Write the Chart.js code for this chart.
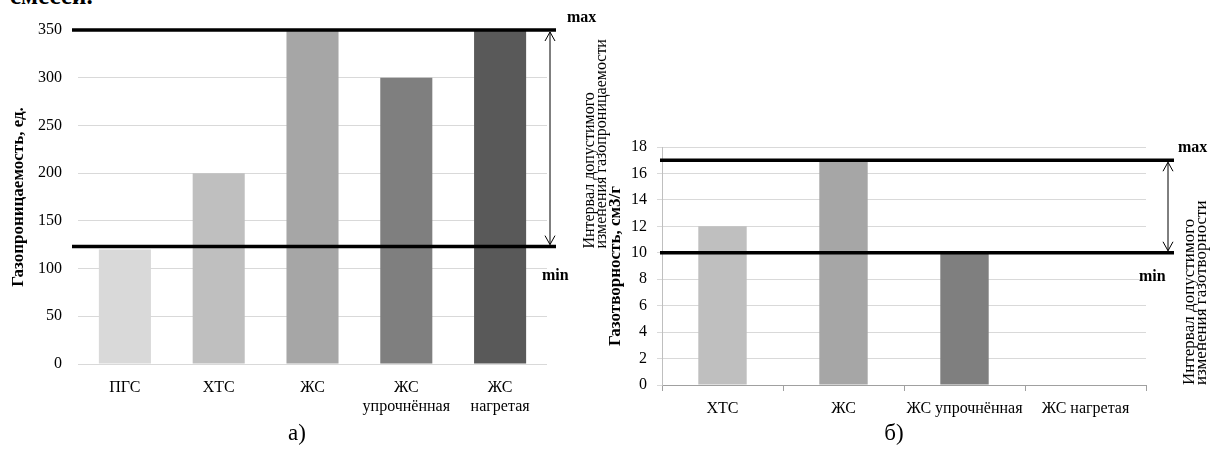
<!DOCTYPE html>
<html><head><meta charset="utf-8">
<script src="https://cdn.jsdelivr.net/npm/chart.js@4"></script>
<style>
body{margin:0;background:#fff;width:1210px;height:450px;overflow:hidden;position:relative;font-family:'Liberation Serif',serif;}
canvas{position:absolute;top:0;}
#ca{left:0;}
#cb{left:600px;}
.cap{position:absolute;font-size:23px;line-height:24px;transform:translateX(-50%);color:#000;}
#head{position:absolute;left:10px;top:-17px;font-size:25px;font-weight:bold;line-height:25px;}
</style></head><body>
<div id="head">смесей.</div>
<canvas id="ca" width="620" height="450"></canvas>
<canvas id="cb" width="610" height="450"></canvas>
<div class="cap" style="left:297px;top:421px">а)</div>
<div class="cap" style="left:894px;top:421px">б)</div>
<script>
// ---- Chart а) data ----
const categoriesA = ['ПГС', 'ХТС', 'ЖС', ['ЖС', 'упрочнённая'], ['ЖС', 'нагретая']];
const valuesA = [120, 200, 350, 300, 350];
const colorsA = ['#d9d9d9', '#bfbfbf', '#a6a6a6', '#7f7f7f', '#595959'];
const axisA = [0, 350, 50];          // min, max, step
const limitsA = [123, 350];          // min, max
const titleA = 'Газопроницаемость, ед.';
const noteA = ['Интервал допустимого', 'изменения газопроницаемости'];

// ---- Chart б) data ----
const categoriesB = ['ХТС', 'ЖС', 'ЖС упрочнённая', 'ЖС нагретая'];
const valuesB = [12, 17, 10, null];
const colorsB = ['#bfbfbf', '#a6a6a6', '#7f7f7f', '#595959'];
const axisB = [0, 18, 2];
const limitsB = [10, 17];
const titleB = 'Газотворность, см3/г';
const noteB = ['Интервал допустимого', 'изменения газотворности'];

const SERIF = "'Liberation Serif', 'Times New Roman', serif";

function arrowHead(ctx, x, y, dir) {
  ctx.beginPath();
  ctx.moveTo(x - 5, y + dir * 9);
  ctx.lineTo(x, y);
  ctx.lineTo(x + 5, y + dir * 9);
  ctx.stroke();
}

function limitsPlugin(limits, note, g) {
  return {
    id: 'limits',
    afterDatasetsDraw(chart) {
      const ctx = chart.ctx, ys = chart.scales.y, a = chart.chartArea;
      const yMin = ys.getPixelForValue(limits[0]);
      const yMax = ys.getPixelForValue(limits[1]);
      ctx.save();
      ctx.strokeStyle = '#000';
      ctx.lineWidth = 3.5;
      ctx.beginPath();
      ctx.moveTo(a.left + g.l, yMax); ctx.lineTo(a.right + g.r, yMax);
      ctx.moveTo(a.left + g.l, yMin); ctx.lineTo(a.right + g.r, yMin);
      ctx.stroke();
      // double arrow
      const ax = a.right + g.ax;
      ctx.lineWidth = 1;
      ctx.beginPath();
      ctx.moveTo(ax, yMax + 2); ctx.lineTo(ax, yMin - 2);
      ctx.stroke();
      arrowHead(ctx, ax, yMax + 2, 1);
      arrowHead(ctx, ax, yMin - 2, -1);
      // labels
      ctx.fillStyle = '#000';
      ctx.font = 'bold 16px ' + SERIF;
      ctx.textAlign = 'left';
      ctx.textBaseline = 'middle';
      ctx.fillText('max', a.right + g.mx, yMax - 12);
      ctx.fillText('min', a.right + g.nx, yMin + g.ny);
      // rotated note
      ctx.font = g.noteFont + 'px ' + SERIF;
      const y0 = g.noteY(a, yMin);
      note.forEach((t, i) => {
        ctx.save();
        ctx.translate(a.right + g.tx + i * g.lh, y0);
        ctx.rotate(-Math.PI / 2);
        ctx.fillText(t, 0, 0);
        ctx.restore();
      });
      ctx.restore();
    }
  };
}

const tickFont = { family: SERIF, size: 16, lineHeight: 1.15 };

new Chart(document.getElementById('ca'), {
  type: 'bar',
  data: {
    labels: categoriesA,
    datasets: [{ data: valuesA, backgroundColor: colorsA, borderWidth: 0,
                 barPercentage: 0.555, categoryPercentage: 1 }]
  },
  options: {
    responsive: false, animation: false,
    layout: { padding: { top: 30, right: 73, left: 0, bottom: 0 } },
    plugins: { legend: { display: false }, tooltip: { enabled: false } },
    scales: {
      x: {
        grid: { display: false }, border: { display: false },
        ticks: { color: '#000', font: tickFont, padding: 7, maxRotation: 0, autoSkip: false },
        afterFit(s) { s.height = 86; }
      },
      y: {
        min: axisA[0], max: axisA[1],
        ticks: { stepSize: axisA[2], color: '#000', font: { family: SERIF, size: 16 }, padding: 16 },
        grid: { color: '#d9d9d9', drawTicks: false },
        border: { display: false },
        title: { display: true, text: titleA, color: '#000',
                 font: { family: SERIF, size: 17, weight: 'bold' }, padding: { top: 8, bottom: 0 } },
        afterFit(s) { s.width = 78; }
      }
    }
  },
  plugins: [limitsPlugin(limitsA, noteA, {
    l: -6, r: 9, ax: 3, mx: 20, nx: -5, ny: 29, tx: 43, lh: 11.5, noteFont: 16,
    noteY: (a, yMin) => yMin + 2
  })]
});

new Chart(document.getElementById('cb'), {
  type: 'bar',
  data: {
    labels: categoriesB,
    datasets: [{ data: valuesB, backgroundColor: colorsB, borderWidth: 0,
                 barPercentage: 0.40, categoryPercentage: 1 }]
  },
  options: {
    responsive: false, animation: false,
    layout: { padding: { top: 147, right: 64, left: 0, bottom: 0 } },
    plugins: { legend: { display: false }, tooltip: { enabled: false } },
    scales: {
      x: {
        grid: { drawOnChartArea: false, drawTicks: true, tickLength: 6, color: '#a0a0a0' },
        border: { display: true, color: '#a0a0a0' },
        ticks: { color: '#000', font: tickFont, padding: 9, maxRotation: 0, autoSkip: false },
        afterFit(s) { s.height = 65; }
      },
      y: {
        min: axisB[0], max: axisB[1],
        ticks: { stepSize: axisB[2], color: '#000', font: { family: SERIF, size: 16 }, padding: 10 },
        grid: { color: '#d9d9d9', drawTicks: true, tickLength: 5 },
        border: { display: true, color: '#bfbfbf' },
        title: { display: true, text: titleB, color: '#000',
                 font: { family: SERIF, size: 17, weight: 'bold' }, padding: { top: 5, bottom: 0 } },
        afterFit(s) { s.width = 62; }
      }
    }
  },
  plugins: [limitsPlugin(limitsB, noteB, {
    l: -2, r: 28, ax: 22, mx: 32, nx: -7, ny: 24, tx: 44, lh: 12, noteFont: 17,
    noteY: (a) => a.bottom
  })]
});
</script>
</body></html>
